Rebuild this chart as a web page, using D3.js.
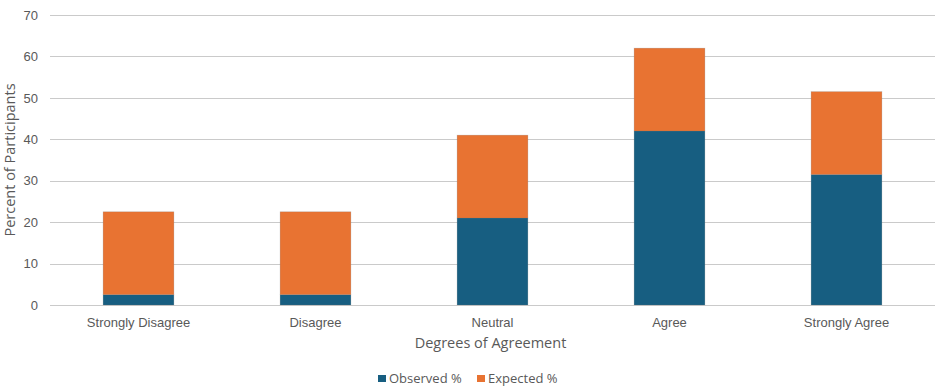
<!DOCTYPE html>
<html>
<head>
<meta charset="utf-8">
<script src="https://cdn.jsdelivr.net/npm/d3@7"></script>
<style>
  html, body { margin: 0; padding: 0; background: #fff; }
  svg { display: block; font-family: "Open Sans", "Liberation Sans", Arial, sans-serif; }
</style>
</head>
<body>
<svg id="chart" width="936" height="390"></svg>
<script>
// Survey response distribution: observed vs expected percentages
const categories = ["Strongly Disagree", "Disagree", "Neutral", "Agree", "Strongly Agree"];
const observed = [2.5, 2.5, 21, 42, 31.5];
const expected = [20, 20, 20, 20, 20];
const seriesNames = ["Observed %", "Expected %"];
const yTicks = [0, 10, 20, 30, 40, 50, 60, 70];

const colors = { "Observed %": "#175e81", "Expected %": "#e87332" };
const textColor = "#595959";

const svg = d3.select("#chart");
const margin = { left: 50, right: 1, top: 15, bottom: 85 };
const W = 936, H = 390;

const rows = categories.map((c, i) => ({ category: c, "Observed %": observed[i], "Expected %": expected[i] }));
const stacked = d3.stack().keys(seriesNames)(rows);

const x = d3.scaleBand().domain(categories)
  .range([margin.left, W - margin.right]).paddingInner(0.6).paddingOuter(0.3);
const y = d3.scaleLinear().domain([0, 70]).range([H - margin.bottom, margin.top]);

// gridlines
svg.append("g")
  .selectAll("line").data(yTicks).join("line")
  .attr("x1", margin.left).attr("x2", W - margin.right)
  .attr("y1", d => Math.round(y(d)) + 0.5).attr("y2", d => Math.round(y(d)) + 0.5)
  .attr("stroke", "#cacaca").attr("stroke-width", 1);

// y axis labels
const yAxis = svg.append("g")
  .attr("transform", `translate(${margin.left},0)`)
  .call(d3.axisLeft(y).tickValues(yTicks).tickSize(0).tickPadding(12));
yAxis.select(".domain").remove();
yAxis.selectAll("text").attr("fill", textColor).style("font-size", "13px");

// bars
svg.append("g").selectAll("g").data(stacked).join("g")
  .attr("fill", d => colors[d.key])
  .selectAll("rect").data(d => d).join("rect")
  .attr("x", d => x(d.data.category))
  .attr("width", x.bandwidth())
  .attr("y", d => y(d[1]))
  .attr("height", d => y(d[0]) - y(d[1]))
  .attr("stroke", "rgba(120,120,120,0.35)")
  .attr("stroke-width", 0.6);

// x axis labels
const xAxis = svg.append("g")
  .attr("transform", `translate(0,${y(0)})`)
  .call(d3.axisBottom(x).tickSize(0).tickPadding(13));
xAxis.select(".domain").remove();
xAxis.selectAll("text").attr("fill", textColor).style("font-size", "13px");

// axis titles
svg.append("text")
  .attr("x", (margin.left + W - margin.right) / 2 - 2).attr("y", 348)
  .attr("text-anchor", "middle").attr("fill", textColor)
  .style("font-size", "14.5px").text("Degrees of Agreement");

svg.append("text")
  .attr("transform", `translate(15,${(y(0) + y(70)) / 2}) rotate(-90)`)
  .attr("text-anchor", "middle").attr("fill", textColor)
  .style("font-size", "14.5px").text("Percent of Participants");

// legend
const legend = svg.append("g").attr("transform", "translate(378,383)");
const items = legend.selectAll("g").data(seriesNames).join("g")
  .attr("transform", (d, i) => `translate(${i * 99},0)`);
items.append("rect").attr("x", 0).attr("y", -8).attr("width", 8).attr("height", 7)
  .attr("fill", d => colors[d]);
items.append("text").attr("x", 11).attr("y", 0)
  .attr("fill", textColor).style("font-size", "13px").text(d => d);
</script>
</body>
</html>
